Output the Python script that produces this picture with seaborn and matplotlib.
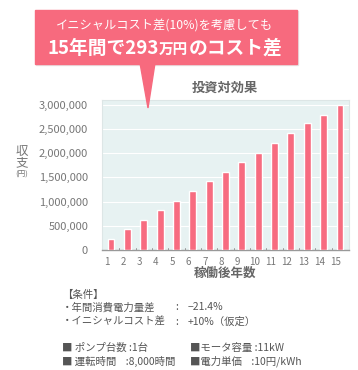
import matplotlib
matplotlib.use("Agg")
import matplotlib.pyplot as plt
from matplotlib.patches import Polygon, Rectangle
from matplotlib.ticker import FuncFormatter
import pandas as pd
import seaborn as sns

# data
years = list(range(1, 16))
balance = [230000, 430000, 630000, 820000, 1020000, 1220000, 1420000, 1620000,
           1810000, 2010000, 2210000, 2410000, 2620000, 2800000, 2990000]
y_ticks = [0, 500000, 1000000, 1500000, 2000000, 2500000, 3000000]

callout_line1 = "イニシャルコスト差(10%)を考慮しても"
callout_parts = [("15年間で293", 13.5), ("万円", 10.5), ("のコスト差", 13.5)]
chart_title = "投資対効果"
x_label = "稼働後年数"
conditions = ["【条件】",
              ("・年間消費電力量差", ":", "−21.4%"),
              ("・イニシャルコスト差", ":", "+10%（仮定）")]
specs = [("■ ポンプ台数 :1台", "■モータ容量 :11kW"),
         ("■ 運転時間    :8,000時間", "■電力単価    :10円/kWh")]

df = pd.DataFrame({"year": years, "balance": balance})

sns.set_theme(style="white")
plt.rcParams['font.family'] = ['Noto Sans CJK JP', 'DejaVu Sans']

W, H = 358, 370
fig = plt.figure(figsize=(W / 100, H / 100), dpi=100)
fig.patch.set_facecolor("white")

def fx(px):
    return px / W

def fy(py):
    return 1 - py / H

ax = fig.add_axes([fx(102), fy(250), fx(349) - fx(102), fy(100) - fy(250)])
ax.set_facecolor("#e7f2f2")
bar_col = "#f76c80"
sns.barplot(data=df, x="year", y="balance", color=bar_col, width=0.42,
            saturation=1, ax=ax, zorder=3)
ax.set_xlim(-0.55, 14.55)
ax.set_ylim(0, 3100000)
ax.set_yticks(y_ticks)
ax.yaxis.set_major_formatter(FuncFormatter(lambda v, p: f"{int(v):,}"))
for yv in y_ticks[1:]:
    ax.axhline(yv, color="white", lw=0.8, zorder=1)

ax.set_xticks([i - 0.25 for i in range(len(years))])
ax.set_xticklabels([str(y) for y in years])
ax.tick_params(axis="x", length=0, labelsize=7, colors="#777777", pad=5)
ax.tick_params(axis="y", length=0, labelsize=8, colors="#777777", pad=10)
for i in range(len(years) - 1):
    ax.plot([i + 0.5, i + 0.5], [0, 40000], color="#999999", lw=0.7, zorder=4)
ax.set_xlabel("")
ax.set_ylabel("")
for side in ["top", "right", "left"]:
    ax.spines[side].set_color("#dde6e6")
    ax.spines[side].set_linewidth(0.8)
ax.spines["bottom"].set_color("#999999")
ax.spines["bottom"].set_linewidth(1.0)

fig.text(fx(225), fy(88), chart_title, ha="center", va="center",
         fontsize=9.5, fontweight="bold", color="#666666")
fig.text(fx(225), fy(273), x_label, ha="center", va="center",
         fontsize=9, fontweight="bold", color="#666666")
fig.text(fx(22), fy(151), "収", ha="center", va="center", fontsize=9, color="#777777")
fig.text(fx(22), fy(163), "支", ha="center", va="center", fontsize=9, color="#777777")
fig.text(fx(22), fy(175), "(円)", ha="center", va="center", fontsize=5.5, color="#777777")

# callout box
box_col = "#f76a7e"
shadow = Rectangle((fx(36), fy(65)), fx(297) - fx(35), fy(10) - fy(64),
                   transform=fig.transFigure, color="#e6e6e6", zorder=0)
fig.patches.append(shadow)
box = Rectangle((fx(35), fy(64)), fx(297) - fx(35), fy(10) - fy(64),
                transform=fig.transFigure, color=box_col, zorder=1)
fig.patches.append(box)
tri = Polygon([(fx(140), fy(63)), (fx(155), fy(63)), (fx(148), fy(108))],
              closed=True, transform=fig.transFigure, color=box_col, zorder=5)
fig.patches.append(tri)
fig.text(fx(165), fy(25), callout_line1, ha="center", va="center",
         fontsize=8.8, color="white", zorder=6)

# second callout line: pieces with a smaller "万円", laid out side by side
renderer = fig.canvas.get_renderer()
pieces = []
for txt, size in callout_parts:
    t = fig.text(0, fy(54), txt, ha="left", va="baseline", fontsize=size,
                 fontweight="bold", color="white", zorder=6)
    pieces.append(t)
widths = [t.get_window_extent(renderer).width for t in pieces]
x0 = 165 - sum(widths) / 2
for t, w in zip(pieces, widths):
    t.set_x(fx(x0))
    x0 += w

# conditions
tc = "#555555"
fs = 7.5
fig.text(fx(62), fy(295), conditions[0], ha="left", va="center", fontsize=fs, color=tc)
for row, yp in zip(conditions[1:], [307, 322]):
    fig.text(fx(62), fy(yp), row[0], ha="left", va="center", fontsize=fs, color=tc)
    fig.text(fx(175), fy(yp), row[1], ha="left", va="center", fontsize=fs, color=tc)
    fig.text(fx(188), fy(yp), row[2], ha="left", va="center", fontsize=fs, color=tc)
for row, yp in zip(specs, [348, 361]):
    fig.text(fx(62), fy(yp), row[0], ha="left", va="center", fontsize=fs, color=tc)
    fig.text(fx(190), fy(yp), row[1], ha="left", va="center", fontsize=fs, color=tc)

fig.savefig("out.png", dpi=100, facecolor="white")
